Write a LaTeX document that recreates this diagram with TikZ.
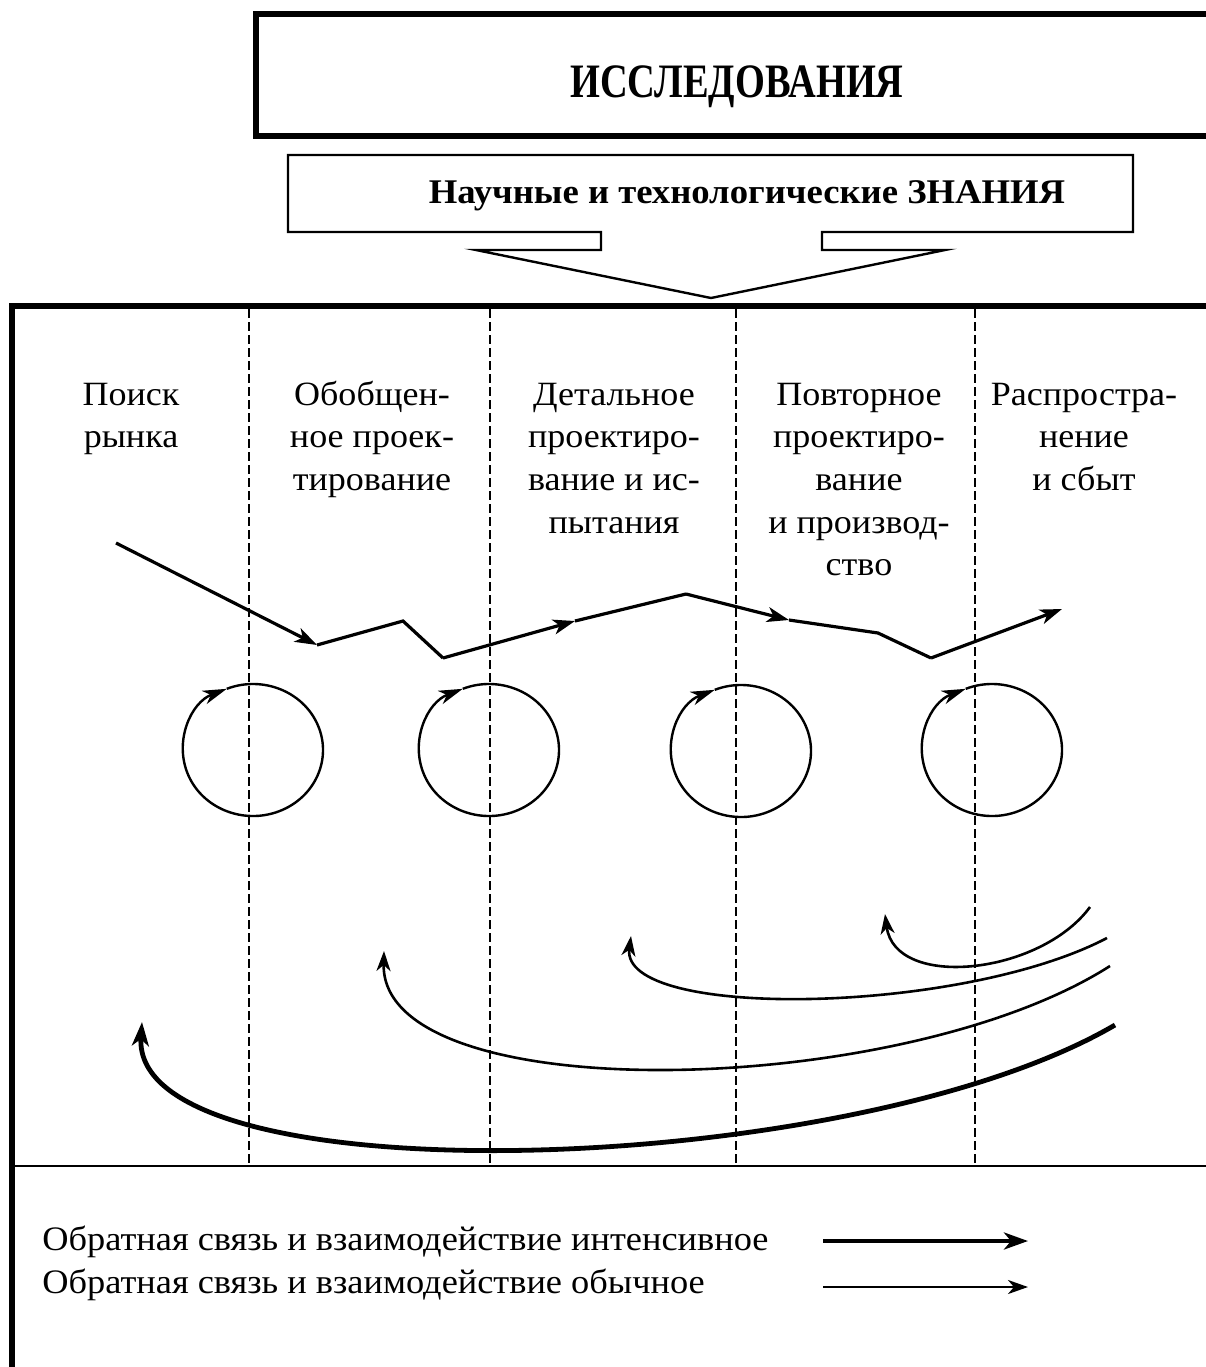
\documentclass[tikz,border=0pt]{standalone}
\usepackage{fontspec}
\setmainfont{Liberation Serif}[FakeStretch=1.06]
\newfontfamily\headfont{Liberation Serif}[FakeStretch=0.8]
\usetikzlibrary{arrows.meta}

\begin{document}
\begin{tikzpicture}[x=0.5pt, y=-0.5pt,
  stage/.style={font=\fontsize{17}{21.3}\selectfont, align=center, anchor=north, inner sep=0pt},
  legtext/.style={font=\fontsize{17.15}{21}\selectfont, anchor=base west, inner sep=0pt},
  divider/.style={line width=0.9pt, dash pattern=on 4.5pt off 2pt},
  flowline/.style={line width=1.6pt},
  flowhead/.style={-{Stealth[length=11pt, width=7.5pt, inset=3pt]}},
  loopline/.style={line width=1.2pt, -{Stealth[length=12pt, width=7pt, inset=3.5pt]}},
  fbnormal/.style={line width=1.3pt, -{Stealth[length=10pt, width=7pt, inset=3pt]}},
  fbstrong/.style={line width=2.4pt, -{Stealth[length=12pt, width=8.5pt, inset=3.5pt]}}]
\useasboundingbox (0,0) rectangle (1206,1367);

% research and knowledge
\draw[line width=2.6pt] (256,14) rectangle (1230,136);
\node[font=\headfont\bfseries\fontsize{24}{28}\selectfont, inner sep=0pt, anchor=base] (research) at (737,97) {ИССЛЕДОВАНИЯ};
\draw[line width=1.2pt] (288,155) -- (1133,155) -- (1133,232) -- (822,232) -- (822,250)
  -- (945,250) -- (711,298) -- (476,250) -- (601,250) -- (601,232) -- (288,232) -- cycle;
\node[font=\bfseries\fontsize{17.3}{21}\selectfont, inner sep=0pt, anchor=base] (knowledge) at (747,203) {Научные и технологические ЗНАНИЯ};

% frame
\draw[line width=2.6pt] (12,1372) -- (12,306) -- (1215,306);
\draw[line width=1.1pt] (12,1166) -- (1215,1166);
\foreach \xd in {249,490,736,975}
  \draw[divider] (\xd,309) -- (\xd,1166);

% stages
\node[stage] (market) at (131,375) {\strut Поиск\\рынка};
\node[stage] (concept) at (372,375) {\strut Обобщен-\\ное проек-\\тирование};
\node[stage] (detail) at (614,375) {\strut Детальное\\проектиро-\\вание и ис-\\пытания};
\node[stage] (redesign) at (859,375) {\strut Повторное\\проектиро-\\вание\\и производ-\\ство};
\node[stage] (distrib) at (1084,375) {\strut Распростра-\\нение\\и сбыт};

% main flow
\coordinate (f0) at (116,543);
\coordinate (f1) at (317,645);
\coordinate (f2) at (403,621);
\coordinate (f3) at (443,658);
\coordinate (f4) at (575,621);
\coordinate (f5) at (686,594);
\coordinate (f6) at (789,620);
\coordinate (f7) at (878,633);
\coordinate (f8) at (931,658);
\coordinate (f9) at (1062,609);
\draw[flowline, flowhead] (f0) -- (f1);
\draw[flowline] (f1) -- (f2) -- (f3);
\draw[flowline, flowhead] (f3) -- (f4);
\draw[flowline] (f4) -- (f5);
\draw[flowline, flowhead] (f5) -- (f6);
\draw[flowline] (f6) -- (f7) -- (f8);
\draw[flowline, flowhead] (f8) -- (f9);

% cycles
\coordinate (cyc1) at (253,750);
\coordinate (cyc2) at (489,750);
\coordinate (cyc3) at (741,751);
\coordinate (cyc4) at (992,750);
\draw[loopline] (cyc1) ++(248:70 and 66) arc[start angle=248, end angle=608, x radius=70, y radius=66];
\draw[loopline] (cyc2) ++(248:70 and 66) arc[start angle=248, end angle=608, x radius=70, y radius=66];
\draw[loopline] (cyc3) ++(248:70 and 66) arc[start angle=248, end angle=608, x radius=70, y radius=66];
\draw[loopline] (cyc4) ++(248:70 and 66) arc[start angle=248, end angle=608, x radius=70, y radius=66];

% feedback
\coordinate (fb1s) at (1090,907);
\coordinate (fb1e) at (885,914);
\coordinate (fb2s) at (1107,938);
\coordinate (fb2e) at (631,936);
\coordinate (fb3s) at (1110,966);
\coordinate (fb3e) at (384,951);
\coordinate (fb4s) at (1115,1025);
\coordinate (fb4e) at (142,1022);
\draw[fbnormal] (fb1s) .. controls (1040,975) and (895,990) .. (fb1e);
\draw[fbnormal] (fb2s) .. controls (960,1015) and (620,1020) .. (fb2e);
\draw[fbnormal] (fb3s) .. controls (900,1100) and (380,1110) .. (fb3e);
\draw[fbstrong] (fb4s) .. controls (850,1180) and (130,1200) .. (fb4e);

% legend
\node[legtext] (legstrong) at (42,1250) {Обратная связь и взаимодействие интенсивное};
\node[legtext] (legnormal) at (42,1293) {Обратная связь и взаимодействие обычное};
\coordinate (ls0) at (823,1241);
\coordinate (ls1) at (1028,1241);
\coordinate (ln0) at (823,1287);
\coordinate (ln1) at (1028,1287);
\draw[fbstrong] (ls0) -- (ls1);
\draw[fbnormal] (ln0) -- (ln1);
\end{tikzpicture}
\end{document}
